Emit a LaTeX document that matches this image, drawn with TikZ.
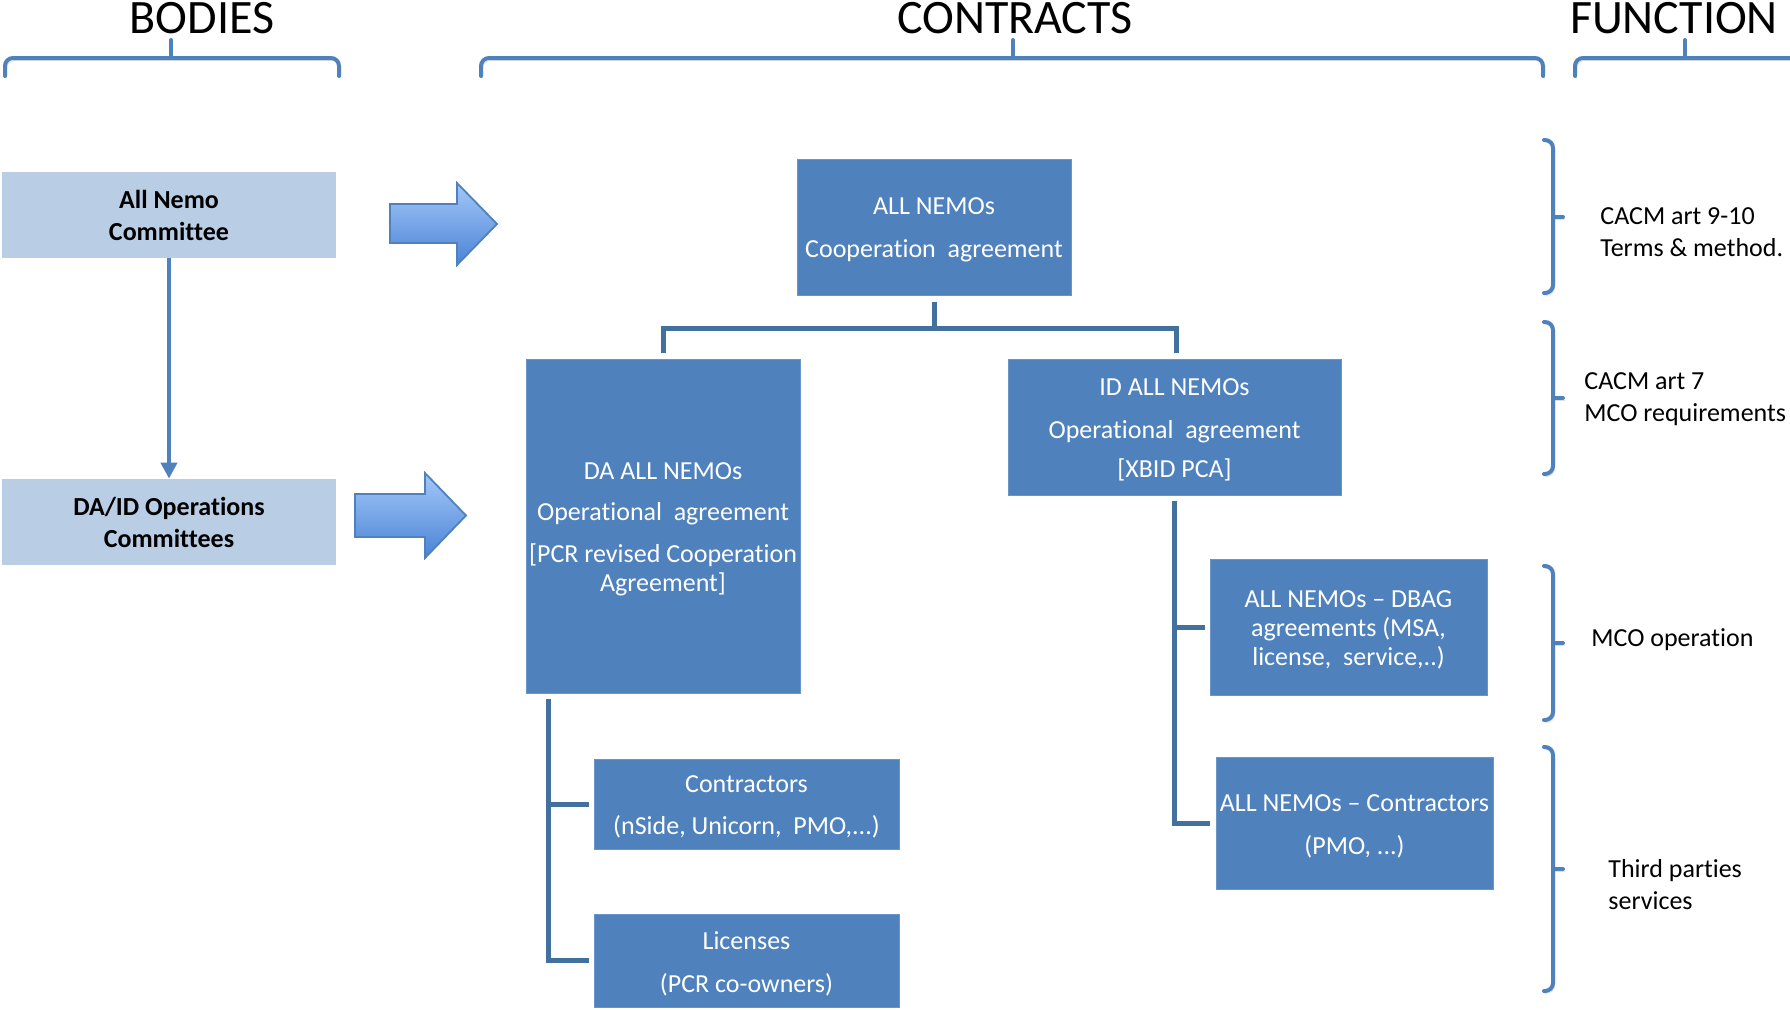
\documentclass[tikz,border=0pt]{standalone}
\usepackage{fontspec}
\setmainfont{Carlito}[Ligatures=NoCommon]
\usetikzlibrary{arrows.meta,calc}
\definecolor{boxblue}{HTML}{4F81BD}
\definecolor{boxedge}{HTML}{6A95CC}
\definecolor{lightbox}{HTML}{B9CDE5}
\definecolor{treeblue}{HTML}{41719C}
\definecolor{arrtop}{HTML}{A3C8F8}
\definecolor{arrbot}{HTML}{4B83D6}
\begin{document}
\begin{tikzpicture}[x=0.5pt,y=-0.5pt,
  box/.style={draw=boxedge,line width=0.5pt,fill=boxblue,inner sep=0pt},
  boxtext/.style={text=white,font=\fontsize{13}{14.5}\selectfont,align=center,inner sep=0pt,yshift=-1.5pt},
  bodybox/.style={fill=lightbox,text=black,font=\bfseries\fontsize{13}{16}\selectfont,
    align=center,inner sep=0pt,minimum width=167pt,minimum height=43pt},
  header/.style={font=\fontsize{24}{28}\selectfont,anchor=base},
  functext/.style={font=\fontsize{13}{16}\selectfont,align=left,anchor=west,inner sep=0pt},
  bracepath/.style={draw=boxblue,line width=2pt,line cap=round,rounded corners=4pt,
    preaction={draw=black!35,opacity=0.35,transform canvas={xshift=0.8pt,yshift=-1.2pt}}},
  tree/.style={draw=treeblue,line width=2.5pt},
  blockarrow/.style={draw=boxblue,line width=0.9pt,top color=arrtop,bottom color=arrbot,line join=miter}
]
\useasboundingbox (0,0) rectangle (1790,1009);

% headers
\node[header] (hbod) at (202,33) {BODIES};
\node[header] (hcon) at (1015,33) {CONTRACTS};
\node[header] (hfun) at (1674,33) {FUNCTION};

% top braces
\draw[bracepath] (5,76) -- (5,58) -- (339,58) -- (339,76);
\draw[bracepath,rounded corners=0pt] (171,58) -- (171,40);
\draw[bracepath] (481,76) -- (481,58) -- (1543,58) -- (1543,76);
\draw[bracepath,rounded corners=0pt] (1013,58) -- (1013,40);
\draw[bracepath] (1575,76) -- (1575,58) -- (1800,58);
\draw[bracepath,rounded corners=0pt] (1685,58) -- (1685,40);

% bodies
\node[bodybox] (allnemo) at (169,215) {All Nemo\\Committee};
\node[bodybox] (daid) at (169,522) {DA/ID Operations\\Committees};
\draw[line width=2.3pt,boxblue,-{Triangle[width=8pt,length=8pt]}] (allnemo.south) -- (daid.north);

% block arrows
\path[blockarrow] (390,204) -- (457,204) -- (457,183) -- (497,224) -- (457,265) -- (457,243) -- (390,243) -- cycle;
\path[blockarrow] (355,494) -- (425,494) -- (425,473) -- (466,515.5) -- (425,558) -- (425,537) -- (355,537) -- cycle;

% contract boxes
\node[box,minimum width=137pt,minimum height=68pt,
  label={[boxtext]center:{ALL NEMOs\\[7pt]Cooperation~~agreement}}] (coop) at (934,227) {};
\node[box,minimum width=137pt,minimum height=167pt,
  label={[boxtext]center:{DA ALL NEMOs\\[6pt]Operational~~agreement\\[6.5pt][PCR revised Cooperation\\Agreement]}}] (da) at (663,526) {};
\node[box,minimum width=166.5pt,minimum height=68pt,
  label={[boxtext]center:{ID ALL NEMOs\\[7pt]Operational~~agreement\\[5pt][XBID PCA]}}] (id) at (1174.5,427) {};
\node[box,minimum width=138.5pt,minimum height=68pt,
  label={[boxtext]center:{ALL NEMOs -- DBAG\\agreements (MSA,\\license,~~service,..)}}] (dbag) at (1348.5,627) {};
\node[box,minimum width=138.5pt,minimum height=66pt,
  label={[boxtext]center:{ALL NEMOs -- Contractors\\[7pt](PMO, ...)}}] (con2) at (1354.5,823) {};
\node[box,minimum width=152.5pt,minimum height=45pt,
  label={[boxtext]center:{Contractors\\[6.5pt](nSide, Unicorn,~~PMO,...)}}] (contr) at (746.5,804) {};
\node[box,minimum width=152.5pt,minimum height=46.5pt,
  label={[boxtext]center:{Licenses\\[7pt](PCR co-owners)}}] (lic) at (746.5,960.5) {};

% tree connectors
\coordinate (j) at ([yshift=-16.5pt]coop.south);
\draw[tree] ([yshift=-3pt]coop.south) -- (j);
\draw[tree] (j) -| ([yshift=3pt]da.north);
\draw[tree] (j) -| ([yshift=3pt,xshift=1pt]id.north);

\coordinate (dax) at ([xshift=11.5pt,yshift=-2.5pt]da.south west);
\draw[tree] (dax) |- ([xshift=-2.5pt]lic.west);
\draw[tree] (dax |- contr.west) -- ([xshift=-2.5pt]contr.west);

\coordinate (idx) at ([yshift=-2.5pt]id.south);
\draw[tree] (idx) |- ([xshift=-3pt]con2.west);
\draw[tree] (idx |- dbag.west) -- ([xshift=-2.5pt]dbag.west);

% function braces
\draw[bracepath] (1544,140) -- (1553,140) -- (1553,293) -- (1544,293);
\draw[bracepath,rounded corners=0pt] (1553,217) -- (1563,217);
\draw[bracepath] (1544,322) -- (1553,322) -- (1553,474) -- (1544,474);
\draw[bracepath,rounded corners=0pt] (1553,398) -- (1563,398);
\draw[bracepath] (1544,566) -- (1553,566) -- (1553,720) -- (1544,720);
\draw[bracepath,rounded corners=0pt] (1553,643) -- (1563,643);
\draw[bracepath] (1544,747) -- (1553,747) -- (1553,991) -- (1544,991);
\draw[bracepath,rounded corners=0pt] (1553,869) -- (1563,869);

% function texts
\node[functext] (f1) at (1600,232) {CACM art 9-10\\Terms \& method.};
\node[functext] (f2) at (1584,399) {CACM art 7\\MCO requirements};
\node[functext] (f3) at (1591,640) {MCO operation};
\node[functext] (f4) at (1608,885) {Third parties\\services};
\end{tikzpicture}
\end{document}
